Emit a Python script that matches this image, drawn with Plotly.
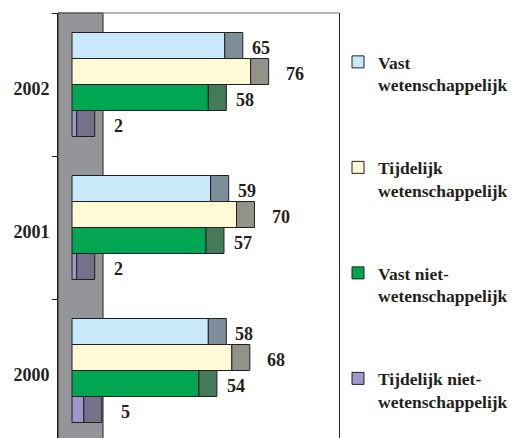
import plotly.graph_objects as go

# ---- data ----
years = ["2000", "2001", "2002"]
series_names = [
    "Vast<br>wetenschappelijk",
    "Tijdelijk<br>wetenschappelijk",
    "Vast niet-<br>wetenschappelijk",
    "Tijdelijk niet-<br>wetenschappelijk",
]
vast_wet = [58, 59, 65]
tijd_wet = [68, 70, 76]
vast_niet = [54, 57, 58]
tijd_niet = [5, 2, 2]

# ---- styles ----
front_colors = ["#C7E9F9", "#FFF9D5", "#00A651", "#9D98CD"]
depth_colors = ["#7E8F99", "#929289", "#437A5A", "#757189"]
label_dx = [7, 15, 8, 17]          # px gap after the 3D end block
EDGE = "#231F20"
FONT = "Liberation Serif, Times New Roman, DejaVu Serif, serif"

W, H = 518, 438
ML, MR, MT, MB = 58, 179, 13, 0
PLOT_W = W - ML - MR
PLOT_H = H - MT - MB
X_MIN, X_MAX = -5.96, 113.6
PX_PER_UNIT = PLOT_W / (X_MAX - X_MIN)
DEPTH = 18 / PX_PER_UNIT           # 3D end block width
WALL_PX = 45
CAT_PX = 143
BAR_PX = 26

all_series = [vast_wet, tijd_wet, vast_niet, tijd_niet]

fig = go.Figure()
# plotly stacks grouped horizontal bars bottom-up, so add in reverse order
for k in reversed(range(4)):
    vals = all_series[k]
    fig.add_trace(go.Bar(
        y=years, x=vals, orientation="h", name=series_names[k],
        offsetgroup=str(k), legendgroup=str(k), legendrank=k + 1,
        marker=dict(color=front_colors[k], line=dict(color=EDGE, width=1)),
        hoverinfo="x+name",
    ))
    fig.add_trace(go.Bar(
        y=years, x=[DEPTH] * len(vals), base=vals, orientation="h",
        offsetgroup=str(k), legendgroup=str(k), showlegend=False,
        marker=dict(color=depth_colors[k], line=dict(color=EDGE, width=1)),
        hoverinfo="skip",
    ))

annotations = []
for k in range(4):
    vals = all_series[k]
    for i, v in enumerate(vals):
        annotations.append(dict(
            x=v + DEPTH, y=i, xref="x", yref="y",
            text=f"<b>{v}</b>", showarrow=False,
            xanchor="left", yanchor="middle",
            xshift=label_dx[k], yshift=(1.5 - k) * BAR_PX - 2,
            font=dict(family=FONT, size=18, color=EDGE),
        ))

span = PLOT_H / CAT_PX
fig.update_layout(
    width=W, height=H,
    margin=dict(l=ML, r=MR, t=MT, b=MB, pad=0, autoexpand=False),
    paper_bgcolor="white", plot_bgcolor="white",
    barmode="group", bargap=1 - 4 * BAR_PX / CAT_PX, bargroupgap=0,
    xaxis=dict(range=[X_MIN, X_MAX], showgrid=False, zeroline=False,
               showticklabels=False, showline=False, fixedrange=True),
    yaxis=dict(type="category", range=[2.5 - span, 2.5], showgrid=False,
               zeroline=False, showline=True, mirror=True, linecolor=EDGE,
               linewidth=1, ticks="outside", tickson="boundaries", ticklen=5,
               tickcolor=EDGE, ticklabelstandoff=4, ticklabelshift=4,
               tickfont=dict(family=FONT, size=18, color=EDGE, weight="bold")),
    shapes=[
        dict(type="rect", xref="paper", yref="paper", x0=0, x1=WALL_PX / PLOT_W,
             y0=-0.05, y1=1, fillcolor="#939598",
             line=dict(color=EDGE, width=1), layer="below"),
        dict(type="line", xref="paper", yref="paper", x0=0, x1=1, y0=1, y1=1,
             line=dict(color="#6D6E71", width=1)),
    ],
    legend=dict(x=(338 - ML) / PLOT_W, xanchor="left",
                y=(H - 44 - MB) / PLOT_H, yanchor="top",
                valign="top", tracegroupgap=57, traceorder="grouped",
                font=dict(family=FONT, size=17.5, color=EDGE, weight="bold"),
                bgcolor="rgba(0,0,0,0)"),
    annotations=annotations,
    showlegend=True,
)

fig.write_html("out.html", config={"displayModeBar": False},
               post_script="document.body.style.margin='0';")
